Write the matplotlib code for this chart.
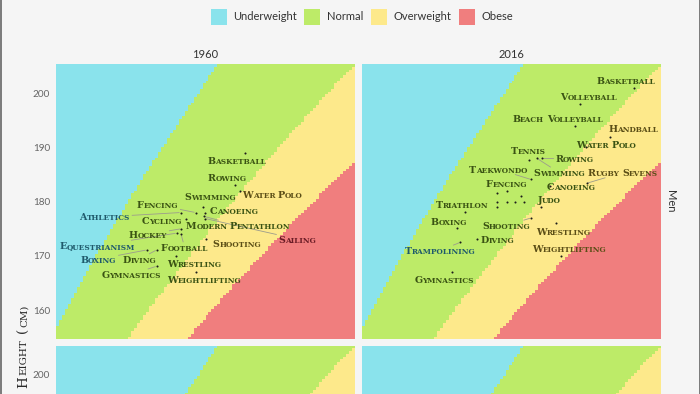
import numpy as np
import matplotlib
matplotlib.use('Agg')
import matplotlib.pyplot as plt
from matplotlib.colors import ListedColormap
from matplotlib.patches import Rectangle
from matplotlib.font_manager import FontProperties
from matplotlib.transforms import offset_copy

# ---------------- data ----------------
categories = ['Underweight', 'Normal', 'Overweight', 'Obese']
bmi_breaks = [18.5, 25, 30]
years = ['1960', '2016']
sexes = ['Men', 'Women']
weight_lim = [45.5, 105.5]
height_lim = [154.6, 205.4]
height_ticks = [160, 170, 180, 190, 200]

sports_1960 = ['Basketball', 'Rowing', 'Water Polo', 'Swimming', 'Fencing', 'Canoeing',
               'Modern Pentathlon', 'Sailing', 'Athletics', 'Cycling', 'Hockey',
               'Equestrianism', 'Football', 'Shooting', 'Boxing', 'Diving', 'Wrestling',
               'Gymnastics', 'Weightlifting']
weight_1960 = [83.4, 81.5, 82.4, 75.0, 73.5, 75.4, 75.2, 75.4, 70.5, 71.5, 70.6,
               69.7, 70.6, 75.5, 63.7, 65.7, 69.6, 65.7, 73.5]
height_1960 = [189.0, 183.0, 182.0, 179.1, 178.0, 177.9, 177.3, 176.9, 178.0, 176.9, 175.0,
               174.2, 174.0, 173.1, 171.1, 171.1, 170.0, 168.1, 167.1]

sports_2016 = ['Basketball', 'Volleyball', 'Beach Volleyball', 'Handball', 'Water Polo',
               'Tennis', 'Swimming', 'Rowing', 'Taekwondo', 'Fencing', 'Canoeing',
               'Rugby Sevens', 'Judo', 'Triathlon', 'Boxing', 'Shooting', 'Wrestling',
               'Diving', 'Trampolining', 'Weightlifting', 'Gymnastics', 'Athletics',
               'Hockey', 'Cycling', 'Modern Pentathlon', 'Football', 'Equestrianism', 'Sailing']
weight_2016 = [100.1, 89.2, 88.3, 95.3, 90.4, 79.1, 80.6, 81.6, 79.4, 74.5, 83.2,
               90.6, 81.4, 66.2, 64.6, 79.4, 84.4, 68.6, 65.2, 85.4, 63.6, 72.5,
               77.5, 72.5, 72.5, 74.5, 76.2, 78.0]
height_2016 = [200.9, 198.0, 194.0, 192.0, 190.0, 187.6, 188.0, 188.0, 184.1, 182.0, 182.9,
               183.4, 179.1, 178.1, 175.1, 177.0, 176.1, 173.1, 172.5, 170.0, 167.1, 181.6,
               181.1, 180.0, 179.1, 180.0, 180.0, 180.0]

# label placement (repelled label positions, weight/height coordinates)
label_pos_1960 = {
    'Basketball': (81.8, 187.6), 'Rowing': (79.8, 184.4), 'Water Polo': (89.0, 181.4),
    'Swimming': (76.4, 180.9), 'Fencing': (65.9, 179.4), 'Canoeing': (81.1, 178.3),
    'Athletics': (55.3, 177.2), 'Cycling': (66.7, 176.5), 'Modern Pentathlon': (82.1, 175.6),
    'Hockey': (64.0, 174.0), 'Sailing': (93.9, 173.1), 'Equestrianism': (53.7, 171.9),
    'Football': (71.3, 171.6), 'Shooting': (81.8, 172.3), 'Boxing': (54.0, 169.4),
    'Diving': (62.2, 169.4), 'Wrestling': (73.3, 168.6), 'Gymnastics': (60.6, 166.6),
    'Weightlifting': (75.2, 165.7)}
label_pos_2016 = {
    'Basketball': (98.4, 202.3), 'Volleyball': (91.0, 199.4), 'Beach Volleyball': (84.8, 195.4),
    'Handball': (99.9, 193.4), 'Water Polo': (94.5, 190.6), 'Tennis': (78.8, 189.4),
    'Rowing': (88.2, 188.0), 'Taekwondo': (72.8, 186.0), 'Swimming': (85.0, 185.4),
    'Rugby Sevens': (97.9, 185.4), 'Fencing': (74.5, 183.4), 'Canoeing': (87.4, 182.8),
    'Judo': (83.1, 180.4), 'Triathlon': (65.6, 179.4), 'Boxing': (63.0, 176.4),
    'Shooting': (74.5, 175.6), 'Wrestling': (86.0, 174.5), 'Diving': (72.7, 173.1),
    'Trampolining': (61.2, 171.0), 'Weightlifting': (87.0, 171.4), 'Gymnastics': (62.0, 165.6)}

# ---------------- style ----------------
cat_colors = ['#8ae3ec', '#bdeb68', '#fde98b', '#f07e7e']
label_colors = ['#1f5a6c', '#3a5313', '#5b4e16', '#6b1c26']
BG = '#f5f5f5'
SANS = 'Lato'
SERIF = 'DejaVu Serif'
BIG, SMALL = 6.8, 5.3
W, H = 700, 394
DPI = 100

fig = plt.figure(figsize=(W / DPI, H / DPI), dpi=DPI)
fig.patch.set_facecolor(BG)
renderer = fig.canvas.get_renderer()


def px_w(s, size, family=SERIF, weight='bold'):
    fp = FontProperties(family=family, size=size, weight=weight)
    w, h, d = renderer.get_text_width_height_descent(s, fp, ismath=False)
    return w


def sc_runs(s, big=BIG, small=SMALL):
    runs = []
    for i, word in enumerate(s.split(' ')):
        if i > 0:
            runs.append((None, small))
        runs.append((word[0].upper(), big))
        if len(word) > 1:
            runs.append((word[1:].upper(), small))
    widths = []
    for t, sz in runs:
        widths.append(small * 0.32 * DPI / 72 if t is None else px_w(t, sz))
    return runs, widths


def smallcaps(target, x, y, s, color, transform, rotation=0, big=BIG, small=SMALL,
              zorder=5, weight='bold'):
    runs, widths = sc_runs(s, big, small)
    total = sum(widths)
    cur = -total / 2
    base = -0.36 * big * DPI / 72
    for (t, sz), w in zip(runs, widths):
        if t is not None:
            if rotation == 0:
                tr = offset_copy(transform, fig=fig, x=cur, y=base, units='dots')
            else:
                tr = offset_copy(transform, fig=fig, x=-base, y=cur, units='dots')
            target.text(x, y, t, transform=tr, fontsize=sz, family=SERIF, weight=weight,
                        color=color, ha='left', va='baseline', rotation=rotation,
                        rotation_mode='anchor', zorder=zorder)
        cur += w
    return total


def category(w, h):
    return int(np.digitize(w / (h / 100.0) ** 2, bmi_breaks))


# background tiles
w_edges = np.linspace(weight_lim[0], weight_lim[1], 101)
h_edges = np.linspace(height_lim[0], height_lim[1], 101)
wc = (w_edges[:-1] + w_edges[1:]) / 2
hc = (h_edges[:-1] + h_edges[1:]) / 2
WW, HH = np.meshgrid(wc, hc)
cat_grid = np.digitize(WW / (HH / 100.0) ** 2, bmi_breaks)
cmap = ListedColormap(cat_colors)

panel_w, panel_h = 299, 275.4
lefts = [56, 362]
tops = [64, 345.7]

data = {
    ('Men', '1960'): (sports_1960, weight_1960, height_1960, label_pos_1960),
    ('Men', '2016'): (sports_2016, weight_2016, height_2016, label_pos_2016),
}

for r, sex in enumerate(sexes):
    for c, year in enumerate(years):
        ax = fig.add_axes([lefts[c] / W, 1 - (tops[r] + panel_h) / H, panel_w / W, panel_h / H])
        ax.pcolormesh(w_edges, h_edges, cat_grid, cmap=cmap, vmin=-0.5, vmax=3.5,
                      shading='flat', antialiased=False, linewidth=0)
        ax.set_xlim(weight_lim)
        ax.set_ylim(height_lim)
        for sp in ax.spines.values():
            sp.set_visible(False)
        ax.set_xticks([])
        # only ticks that fall inside the visible picture
        vis = [t for t in height_ticks
               if (1 - fig.transFigure.inverted().transform(
                   ax.transData.transform((weight_lim[0], t)))[1]) * H < H - 8]
        ax.set_yticks(vis)
        ax.tick_params(axis='y', length=0, pad=4.3)
        if c == 0:
            ax.set_yticklabels([str(t) for t in vis], fontsize=7.2,
                               family=SANS, color='#666666')
        else:
            ax.set_yticklabels([])
        key = (sex, year)
        if key not in data:
            continue
        sports, ws, hs, lpos = data[key]
        ax.scatter(ws, hs, s=2.2, color='#1c1c1c', linewidths=0, zorder=4)
        inv = ax.transData.inverted()
        for sport, w, h in zip(sports, ws, hs):
            if sport not in lpos:
                continue
            lx, ly = lpos[sport]
            runs, widths = sc_runs(sport)
            total = sum(widths)
            cpx = ax.transData.transform((lx, ly))
            ppx = ax.transData.transform((w, h))
            left_w, _ = inv.transform((cpx[0] - total / 2, cpx[1]))
            col = label_colors[category(left_w, ly)]
            smallcaps(ax, lx, ly, sport, col, ax.transData)
            # leader segment
            hw = total / 2 + 2
            hh = 0.72 * BIG * DPI / 72 / 2 + 2
            v = ppx - cpx
            if abs(v[0]) <= hw and abs(v[1]) <= hh:
                continue
            tx = hw / abs(v[0]) if v[0] != 0 else np.inf
            ty = hh / abs(v[1]) if v[1] != 0 else np.inf
            t = min(tx, ty)
            start = cpx + v * t
            seg = ppx - start
            L = np.hypot(*seg)
            if L < 7:
                continue
            end = ppx - seg / L * 1.5
            s_d = inv.transform(start)
            e_d = inv.transform(end)
            ax.plot([s_d[0], e_d[0]], [s_d[1], e_d[1]], color='#9c9c8c', lw=0.6, zorder=3)

# strips
for c, year in enumerate(years):
    fig.text((lefts[c] + panel_w / 2) / W, 1 - 55 / H, year, ha='center', va='center',
             fontsize=8, family=SANS, color='#333333')
fig.text(670 / W, 1 - (tops[0] + panel_h / 2) / H, sexes[0], rotation=270, ha='center',
         va='center', fontsize=8, family=SANS, color='#333333')

# y axis title
smallcaps(fig, 22 / W, 1 - 345 / H, 'Height (cm)', '#2a2a2a', fig.transFigure,
          rotation=90, big=9.6, small=7.4, weight='normal')

# legend
sq, gap1, gap2 = 16, 6.5, 7.5
widths = [px_w(cname, 8, SANS, 'normal') for cname in categories]
total = sum(sq + gap1 + w for w in widths) + gap2 * (len(categories) - 1)
x = 361.6 - total / 2
for cname, col, w in zip(categories, cat_colors, widths):
    fig.add_artist(Rectangle((x / W, 1 - 25 / H), sq / W, sq / H, transform=fig.transFigure,
                             facecolor=col, edgecolor='none'))
    fig.text((x + sq + gap1) / W, 1 - 17 / H, cname, ha='left', va='center', fontsize=8,
             family=SANS, color='#333333')
    x += sq + gap1 + w + gap2

# frame edges
for xe in [0.5, W - 0.5]:
    fig.add_artist(plt.Line2D([xe / W, xe / W], [0, 1], transform=fig.transFigure,
                              color='#666666', lw=1.2))

fig.savefig('out.png', dpi=DPI, facecolor=BG)
